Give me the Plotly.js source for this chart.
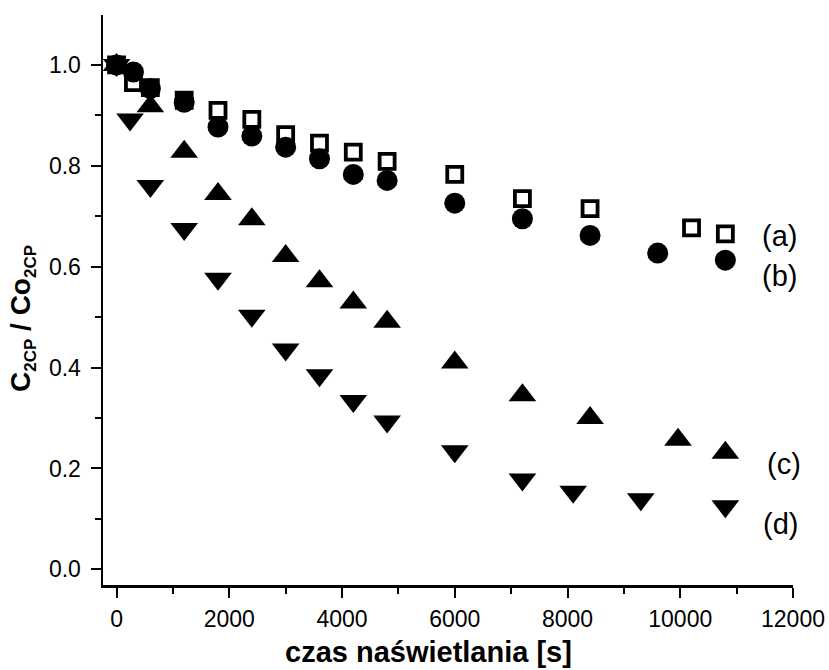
<!DOCTYPE html>
<html>
<head>
<meta charset="utf-8">
<script src="https://cdn.plot.ly/plotly-3.0.1.min.js"></script>
<style>html,body{margin:0;padding:0;background:#fff;}#chart{width:829px;height:670px;}</style>
</head>
<body>
<div id="chart"></div>
<script>
// Series (a): open squares
const timeA = [0, 300, 600, 1200, 1800, 2400, 3000, 3600, 4200, 4800, 6000, 7200, 8400, 10200, 10800];
const ratioA = [1.0, 0.965, 0.955, 0.93, 0.910, 0.892, 0.862, 0.845, 0.827, 0.809, 0.783, 0.735, 0.715, 0.677, 0.665];
// Series (b): filled circles
const timeB = [0, 300, 600, 1200, 1800, 2400, 3000, 3600, 4200, 4800, 6000, 7200, 8400, 9600, 10800];
const ratioB = [1.0, 0.986, 0.953, 0.926, 0.877, 0.859, 0.837, 0.814, 0.783, 0.771, 0.726, 0.695, 0.662, 0.627, 0.613];
// Series (c): up triangles
const timeC = [0, 600, 1200, 1800, 2400, 3000, 3600, 4200, 4800, 6000, 7200, 8400, 9960, 10800];
const ratioC = [1.0, 0.918, 0.828, 0.744, 0.694, 0.621, 0.571, 0.529, 0.491, 0.410, 0.345, 0.300, 0.257, 0.231];
// Series (d): down triangles
const timeD = [0, 240, 600, 1200, 1800, 2400, 3000, 3600, 4200, 4800, 6000, 7200, 8100, 9300, 10800];
const ratioD = [1.0, 0.892, 0.760, 0.675, 0.576, 0.503, 0.436, 0.385, 0.334, 0.293, 0.234, 0.178, 0.154, 0.139, 0.125];

const seriesLabels = ['(a)', '(b)', '(c)', '(d)'];
const xTitle = 'czas naświetlania [s]';

const FONT = 'Liberation Sans, Arial, sans-serif';

const traces = [
  {x: timeC, y: ratioC, mode: 'markers', type: 'scatter',
   marker: {symbol: 'triangle-up', size: 24, color: '#000', line: {width: 0}}},
  {x: timeD, y: ratioD, mode: 'markers', type: 'scatter',
   marker: {symbol: 'triangle-down', size: 24, color: '#000', line: {width: 0}}},
  {x: timeA, y: ratioA, mode: 'markers', type: 'scatter',
   marker: {symbol: 'square-open', size: 15, color: '#000', line: {width: 3.8, color: '#000'}}},
  {x: timeB, y: ratioB, mode: 'markers', type: 'scatter',
   marker: {symbol: 'circle', size: 21, color: '#000', line: {width: 0}}}
];

const labelPos = [[11765, 0.660], [11765, 0.582], [11836, 0.209], [11783, 0.090]];
const annotations = seriesLabels.map((t, i) => ({
  text: t, x: labelPos[i][0], y: labelPos[i][1], xref: 'x', yref: 'y',
  showarrow: false, xanchor: 'center', yanchor: 'middle',
  font: {family: FONT, size: 29, color: '#000'}
}));
annotations.push({
  text: xTitle, xref: 'paper', yref: 'paper', x: (428.5 - 103) / 690, y: (585 - 652) / 570,
  showarrow: false, xanchor: 'center', yanchor: 'middle',
  font: {family: FONT, size: 29, color: '#000', weight: 700}
});
annotations.push({
  text: 'C<sub><span style="font-size:17px">2CP</span></sub> / Co<sub><span style="font-size:17px">2CP</span></sub>',
  xref: 'paper', yref: 'paper', x: (22 - 103) / 690, y: (585 - 319) / 570,
  textangle: -90, showarrow: false, xanchor: 'center', yanchor: 'middle',
  font: {family: FONT, size: 28, color: '#000', weight: 700}
});

const axisCommon = {
  showline: true, linecolor: '#000', linewidth: 2.5, mirror: false,
  showgrid: false, zeroline: false,
  ticks: 'outside', ticklen: 10, tickwidth: 2, tickcolor: '#000',
  tickfont: {family: FONT, size: 23, color: '#000'}
};

const layout = {
  width: 829, height: 670,
  margin: {l: 103, r: 36, t: 15, b: 85},
  paper_bgcolor: '#fff', plot_bgcolor: '#fff',
  showlegend: false,
  xaxis: Object.assign({}, axisCommon, {
    range: [-240, 12000], tick0: 0, dtick: 2000, tickformat: 'd',
    ticklabelstandoff: 2,
    minor: {dtick: 1000, ticks: 'outside', ticklen: 6, tickwidth: 2, tickcolor: '#000'}
  }),
  yaxis: Object.assign({}, axisCommon, {
    range: [-0.031, 1.099], tick0: 0, dtick: 0.2, tickformat: '.1f',
    ticklabelstandoff: 5,
    minor: {dtick: 0.1, ticks: 'outside', ticklen: 6, tickwidth: 2, tickcolor: '#000'}
  }),
  annotations: annotations
};

Plotly.newPlot('chart', traces, layout, {displayModeBar: false, staticPlot: true});
</script>
</body>
</html>
